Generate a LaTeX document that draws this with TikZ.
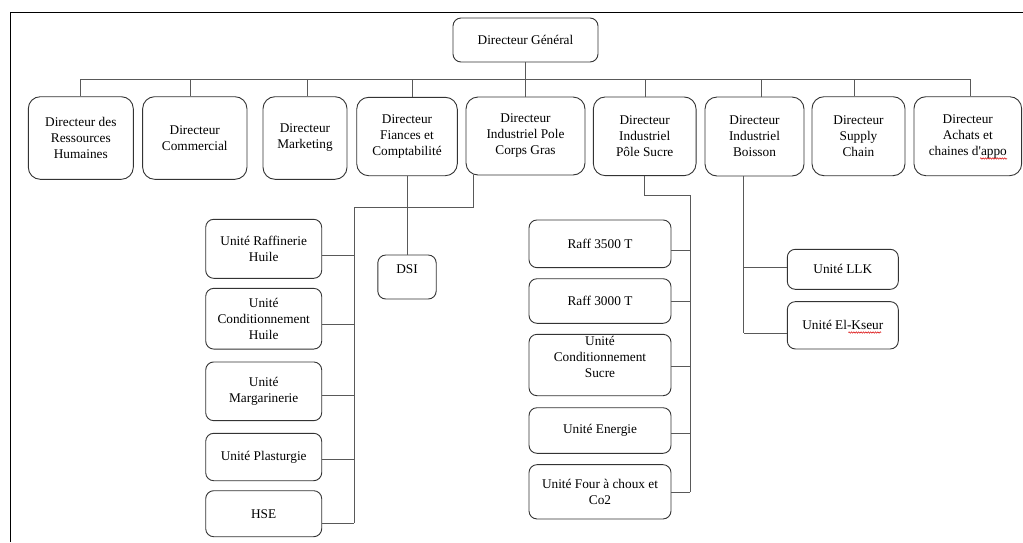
\documentclass[tikz,border=0pt]{standalone}
\usepackage{fontspec}
\setmainfont{Liberation Serif}
\usetikzlibrary{calc,decorations.pathmorphing}
\begin{document}
\begin{tikzpicture}[x=1pt,y=-1pt,
  lbl/.style={font=\fontsize{13.3}{16}\selectfont, align=center, inner sep=0pt},
  box/.style={lbl, draw=black!80, line width=0.9pt, rounded corners=8pt},
  topbox/.style={box, rounded corners=12pt},
  conn/.style={draw=black!65, line width=0.9pt},
  spell/.style={draw=red!85!black, line width=0.5pt, decorate,
    decoration={snake, amplitude=0.7pt, segment length=2.4pt}}
]
\useasboundingbox (0,0) rectangle (1023,542);
% page frame
\draw[line width=1.4pt] (10.5,542) -- (10.5,12.5) -- (1023,12.5);

% top of the chart
\node[box, minimum width=145pt, minimum height=44pt] (dg) at (525.5,40) {Directeur Général};

% directors
\node[topbox, minimum width=105pt, minimum height=82.6pt] (drh) at (80.8,138) {Directeur des\\Ressources\\Humaines};
\node[topbox, minimum width=104.3pt, minimum height=82.6pt] (com) at (194.8,138) {Directeur\\Commercial};
\node[topbox, minimum width=84pt, minimum height=82.6pt] (mkt) at (305,138) {Directeur\\Marketing};
\node[topbox, minimum width=100.6pt, minimum height=78.4pt] (fin) at (407,136.5) {Directeur\\Fiances et\\Comptabilité};
\node[topbox, minimum width=119pt, minimum height=78pt] (cg) at (525.5,136) {Directeur\\Industriel Pole\\Corps Gras};
\node[topbox, minimum width=102.7pt, minimum height=78.7pt] (ps) at (644.7,136.3) {Directeur\\Industriel\\Pôle Sucre};
\node[topbox, minimum width=99pt, minimum height=79pt] (boi) at (754.5,136.5) {Directeur\\Industriel\\Boisson};
\node[topbox, minimum width=93pt, minimum height=79pt] (sc) at (858.5,136.2) {Directeur\\Supply\\Chain};
\node[topbox, minimum width=107.7pt, minimum height=79pt] (ach) at (967.8,136.2) {Directeur\\Achats et\\chaines d\textquotesingle appo};

% units of the Corps Gras pole
\node[box, minimum width=116pt, minimum height=59pt] (rh) at (263.7,248.8) {Unité Raffinerie\\Huile};
\node[box, minimum width=116pt, minimum height=60.7pt] (ch) at (263.7,318.7) {Unité\\Conditionnement\\Huile};
\node[box, minimum width=116pt, minimum height=58.7pt] (mg) at (263.7,391.3) {Unité\\Margarinerie};
\node[box, minimum width=116pt, minimum height=47.4pt] (pl) at (263.7,457) {Unité Plasturgie};
\node[box, minimum width=116pt, minimum height=46pt] (hse) at (263.7,513.7) {HSE};

% DSI
\node[box, minimum width=58.4pt, minimum height=44pt] (dsi) at (407,277) {};
\node[lbl] (dsitxt) at ([yshift=8pt]dsi.center) {DSI};

% units of the Sucre pole
\node[box, minimum width=142pt, minimum height=47.7pt] (r35) at (600,243.8) {Raff 3500 T};
\node[box, minimum width=142pt, minimum height=44.6pt] (r30) at (600,301) {Raff 3000 T};
\node[box, minimum width=142pt, minimum height=61.4pt] (cs) at (600,365) {};
\node[lbl] (cstxt) at ([yshift=8pt]cs.center) {Unité\\Conditionnement\\Sucre};
\node[box, minimum width=142pt, minimum height=45.6pt] (en) at (600,430.5) {Unité Energie};
\node[box, minimum width=142pt, minimum height=54.3pt] (fo) at (600,491.8) {Unité Four à choux et\\Co2};

% units of Boisson
\node[box, minimum width=111pt, minimum height=40pt] (llk) at (842.8,269.3) {Unité LLK};
\node[box, minimum width=111pt, minimum height=47.3pt] (elk) at (842.8,325.3) {Unité El-Kseur};

% spell-check marks
\draw[spell] (980,158.5) -- (1007,158.5);
\draw[spell] (848.3,332.5) -- (881,332.5);

% main bus
\coordinate (bus) at (0,79);
\draw[conn] (dg.south) -- (dg.south |- bus);
\draw[conn] (drh.north |- bus) -- ([xshift=2.2pt]ach.north |- bus);
\foreach \n/\d in {drh/0,com/-4.1,mkt/2,fin/5.3,cg/0,ps/1,boi/7.2,sc/-4.2,ach/2.2}
  \draw[conn] ([xshift=\d pt]\n.north) -- ([xshift=\d pt]\n.north |- bus);

% Corps Gras branch
\coordinate (lspine) at (354.3,207.3);
\coordinate (hsejoin) at ([yshift=-9.6pt]hse.east);
\draw[conn] ([xshift=-52.2pt]cg.south) |- (lspine) -- (hsejoin -| lspine);
\foreach \n/\d in {rh/-6.2,ch/-5.3,mg/-4.4,pl/-2.3,hse/-9.6}
  \draw[conn] ([yshift=\d pt]\n.east) -- ([yshift=\d pt]\n.east -| lspine);

% Finances to DSI
\draw[conn] (fin.south) -- (dsi.north);

% Sucre branch
\coordinate (sspine) at (690.3,195.7);
\coordinate (fojoin) at ([yshift=-0.5pt]fo.east);
\draw[conn] (ps.south) |- (sspine) -- (fojoin -| sspine);
\foreach \n/\d in {r35/-6.9,r30/-0.7,cs/-1.3,en/-2.8,fo/-0.5}
  \draw[conn] ([yshift=\d pt]\n.east) -- ([yshift=\d pt]\n.east -| sspine);

% Boisson branch
\coordinate (btop) at ([xshift=-10.8pt]boi.south);
\coordinate (elkjoin) at ([yshift=-8pt]elk.west);
\draw[conn] (btop) -- (btop |- elkjoin);
\foreach \n/\d in {llk/1.6,elk/-8}
  \draw[conn] ([yshift=\d pt]\n.west) -- ([yshift=\d pt]\n.west -| btop);
\end{tikzpicture}
\end{document}
